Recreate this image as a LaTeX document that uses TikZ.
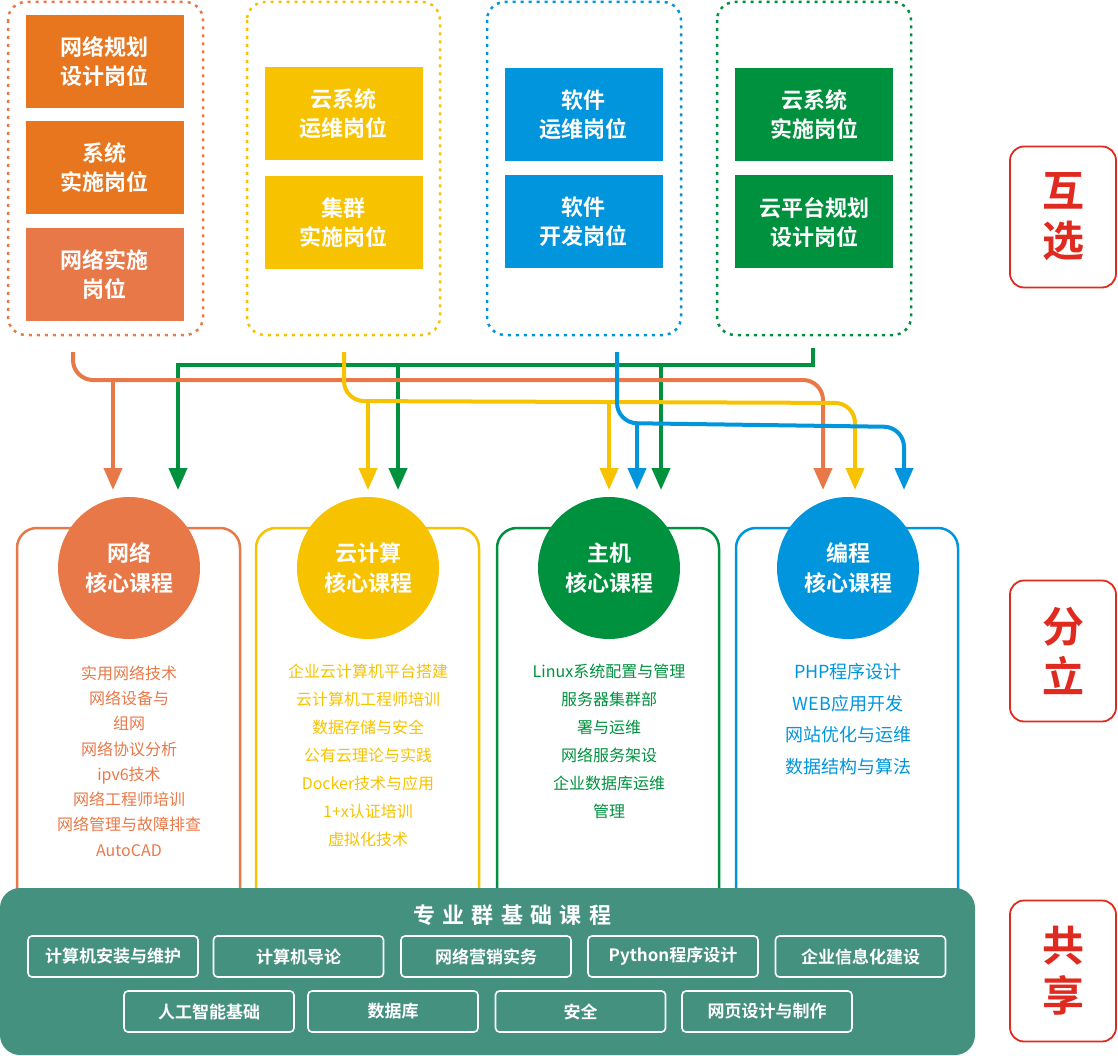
\documentclass[tikz,border=0pt]{standalone}
\usepackage{fontspec}
\setmainfont{Noto Sans CJK SC}[BoldFont={Noto Sans CJK SC Bold}]
\usetikzlibrary{arrows.meta}
\definecolor{co}{HTML}{E8761E}
\definecolor{col}{HTML}{E97848}
\definecolor{cy}{HTML}{F7C200}
\definecolor{cb}{HTML}{0095DD}
\definecolor{cg}{HTML}{00913E}
\definecolor{ct}{HTML}{45917F}
\definecolor{cr}{HTML}{E02A20}
\begin{document}
\begin{tikzpicture}[x=1pt,y=-1pt,
 job/.style={minimum width=158pt,minimum height=93pt,text=white,font=\fontsize{22}{29}\selectfont\bfseries,align=center,inner sep=0pt},
 grp/.style={draw,dash pattern=on 3pt off 5pt,line width=2.5pt,rounded corners=18pt},
 panel/.style={draw,line width=2.5pt,rounded corners=20pt},
 circ/.style={circle,minimum size=142pt,text=white,font=\fontsize{22}{30}\selectfont\bfseries,align=center,inner sep=0pt},
 lst/.style={align=center,font=\fontsize{16}{25.3}\selectfont},
 base/.style={draw=white,line width=1.6pt,rounded corners=4pt,minimum width=170pt,minimum height=41pt,text=white,font=\fontsize{17}{20}\selectfont\bfseries,inner sep=0pt},
 tag/.style={draw=cr,line width=1.8pt,rounded corners=14pt,minimum width=106pt,minimum height=141pt,text=cr,font=\fontsize{42}{50}\selectfont\bfseries,align=center},
 ar/.style={line width=4pt,rounded corners=20pt,-{Triangle[width=18pt,length=22pt]}}]
\useasboundingbox (0,0) rectangle (1118,1056);
% group boxes
\draw[grp,draw=col] (8,2) rectangle (203,335);
\draw[grp,draw=cy] (247,2) rectangle (440,335);
\draw[grp,draw=cb] (487,2) rectangle (681,335);
\draw[grp,draw=cg] (717,2) rectangle (911,335);
% jobs
\node[job,fill=co] (j1) at (104.5,62) {网络规划\\设计岗位};
\node[job,fill=co] (j2) at (104.5,167.5) {系统\\实施岗位};
\node[job,fill=col] (j3) at (104.5,274.5) {网络实施\\岗位};
\node[job,fill=cy] (j4) at (343.5,114) {云系统\\运维岗位};
\node[job,fill=cy] (j5) at (343.5,222.5) {集群\\实施岗位};
\node[job,fill=cb] (j6) at (583.5,114.5) {软件\\运维岗位};
\node[job,fill=cb] (j7) at (583.5,222) {软件\\开发岗位};
\node[job,fill=cg] (j8) at (814,114.5) {云系统\\实施岗位};
\node[job,fill=cg] (j9) at (814,222) {云平台规划\\设计岗位};
% panels
\draw[panel,draw=col] (17,900) -- (17,528) -- (240,528) -- (240,900);
\draw[panel,draw=cy] (256,900) -- (256,528) -- (479,528) -- (479,900);
\draw[panel,draw=cg] (497,900) -- (497,528) -- (719,528) -- (719,900);
\draw[panel,draw=cb] (736,900) -- (736,528) -- (958,528) -- (958,900);
\node[circ,fill=col] (c1) at (129,568) {网络\\核心课程};
\node[circ,fill=cy] (c2) at (368,568) {云计算\\核心课程};
\node[circ,fill=cg] (c3) at (609,568) {主机\\核心课程};
\node[circ,fill=cb] (c4) at (848,568) {编程\\核心课程};
\node[lst,text=col,anchor=north] (l1) at (129,662) {实用网络技术\\网络设备与\\组网\\网络协议分析\\ipv6技术\\网络工程师培训\\网络管理与故障排查\\AutoCAD};
\node[lst,text=cy,anchor=north,font=\fontsize{16}{28}\selectfont] (l2) at (368,660) {企业云计算机平台搭建\\云计算机工程师培训\\数据存储与安全\\公有云理论与实践\\Docker技术与应用\\1+x认证培训\\虚拟化技术};
\node[lst,text=cg,anchor=north,font=\fontsize{16}{28}\selectfont] (l3) at (609,660) {Linux系统配置与管理\\服务器集群部\\署与运维\\网络服务架设\\企业数据库运维\\管理};
\node[lst,text=cb,anchor=north,font=\fontsize{18}{31.5}\selectfont] (l4) at (848,660) {PHP程序设计\\WEB应用开发\\网站优化与运维\\数据结构与算法};
% arrow targets
\coordinate (o0) at (73,352); \coordinate (y0) at (344,352);
\coordinate (b0) at (617,352); \coordinate (g0) at (813,348);
\coordinate (e1) at (113,490); \coordinate (e2) at (178,490);
\coordinate (e3) at (368,490); \coordinate (e4) at (398,490);
\coordinate (e5) at (609,490); \coordinate (e6) at (637,490);
\coordinate (e7) at (661,490); \coordinate (e8) at (823,490);
\coordinate (e9) at (855,490); \coordinate (e10) at (904,490);
\draw[ar,draw=cg,rounded corners=0pt] (g0) |- (178,365) -- (e2);
\draw[ar,draw=cg,-{Triangle[width=18pt,length=22pt]}] (398,365) -- (e4);
\draw[ar,draw=cg] (661,365) -- (e7);
\draw[ar,draw=col] (o0) -- (73,380) -- (823,380) -- (e8);
\draw[ar,draw=col,rounded corners=0pt] (113,380) -- (e1);
\draw[ar,draw=cy] (y0) -- (344,401) -- (855,403) -- (e9);
\draw[ar,draw=cy,rounded corners=0pt] (368,401) -- (e3);
\draw[ar,draw=cy,rounded corners=0pt] (609,402) -- (e5);
\draw[ar,draw=cb] (b0) -- (617,423) -- (904,427) -- (e10);
\draw[ar,draw=cb,rounded corners=0pt] (637,423) -- (e6);
% base
\fill[ct,rounded corners=20pt] (0,888) rectangle (975,1055);
\node[text=white,font=\fontsize{22}{26}\selectfont\bfseries] (bt) at (512,915) {专\,\,业\,\,群\,\,基\,\,础\,\,课\,\,程};
\node[base] (a1) at (113,956.5) {计算机安装与维护};
\node[base] (a2) at (298.5,956.5) {计算机导论};
\node[base] (a3) at (486,956.5) {网络营销实务};
\node[base] (a4) at (673,956.5) {Python程序设计};
\node[base] (a5) at (860.5,956.5) {企业信息化建设};
\node[base] (b1) at (209,1011.5) {人工智能基础};
\node[base] (b2) at (393,1011.5) {数据库};
\node[base] (b3) at (580.5,1011.5) {安全};
\node[base] (b4) at (767,1011.5) {网页设计与制作};
% tags
\node[tag] (t1) at (1063,217) {互\\选};
\node[tag] (t2) at (1063,651) {分\\立};
\node[tag] (t3) at (1063,971) {共\\享};
\end{tikzpicture}
\end{document}
